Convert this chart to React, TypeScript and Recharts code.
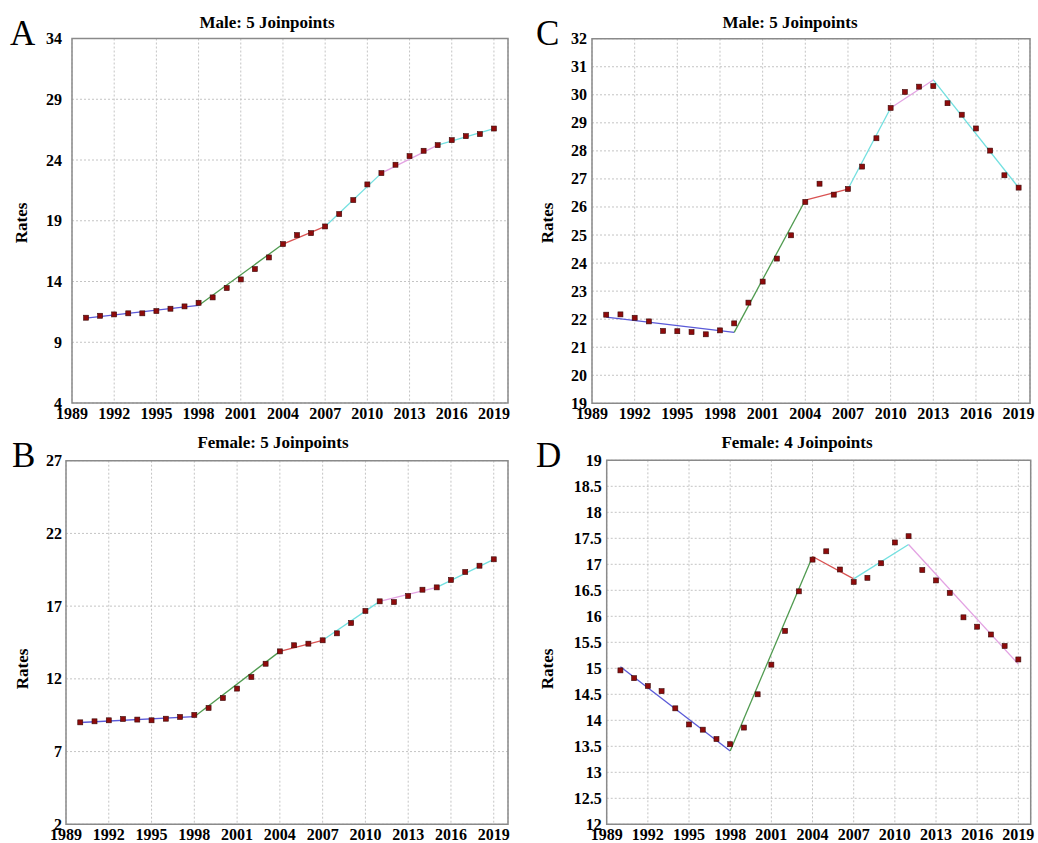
import React from 'react'
import { ComposedChart, Line, Scatter, XAxis, YAxis, CartesianGrid, ReferenceArea } from 'recharts'

// Années observées (1990-2019)
const years = [
    1990, 1991, 1992, 1993, 1994, 1995, 1996, 1997, 1998, 1999,
    2000, 2001, 2002, 2003, 2004, 2005, 2006, 2007, 2008, 2009,
    2010, 2011, 2012, 2013, 2014, 2015, 2016, 2017, 2018, 2019,
]

const xTicks = [1989, 1992, 1995, 1998, 2001, 2004, 2007, 2010, 2013, 2016, 2019]

// A - Male
const maleRatesA = [
    11.02, 11.18, 11.29, 11.38, 11.38, 11.57, 11.76, 11.95, 12.25, 12.69,
    13.46, 14.17, 15.02, 15.98, 17.08, 17.82, 17.98, 18.53, 19.55, 20.7,
    21.99, 22.92, 23.61, 24.32, 24.76, 25.22, 25.63, 25.96, 26.13, 26.59,
]
const maleJoinYearsA = [1990, 1998, 2004, 2007, 2011, 2015, 2019]
const maleFitA = [10.98, 12.03, 17.08, 18.53, 22.92, 25.22, 26.59]
const yTicksA = [4, 9, 14, 19, 24, 29, 34]

// B - Female
const femaleRatesB = [
    9.01, 9.08, 9.15, 9.24, 9.2, 9.15, 9.26, 9.38, 9.52, 10.0,
    10.68, 11.33, 12.13, 13.04, 13.89, 14.31, 14.42, 14.65, 15.13, 15.84,
    16.67, 17.33, 17.28, 17.7, 18.13, 18.29, 18.8, 19.35, 19.78, 20.22,
]
const femaleJoinYearsB = [1990, 1998, 2004, 2007, 2011, 2015, 2019]
const femaleFitB = [9.0, 9.4, 13.89, 14.65, 17.33, 18.29, 20.22]
const yTicksB = [2, 7, 12, 17, 22, 27]

// C - Male
const maleRatesC = [
    22.16, 22.17, 22.05, 21.92, 21.58, 21.57, 21.54, 21.46, 21.6, 21.85,
    22.59, 23.34, 24.16, 24.99, 26.18, 26.83, 26.44, 26.64, 27.44, 28.45,
    29.53, 30.1, 30.29, 30.31, 29.7, 29.29, 28.8, 28.01, 27.13, 26.69,
]
const maleJoinYearsC = [1990, 1999, 2004, 2007, 2010, 2013, 2019]
const maleFitC = [22.07, 21.53, 26.24, 26.64, 29.53, 30.53, 26.69]
const yTicksC = [19, 20, 21, 22, 23, 24, 25, 26, 27, 28, 29, 30, 31, 32]

// D - Female
const femaleRatesD = [
    14.96, 14.81, 14.66, 14.56, 14.23, 13.92, 13.82, 13.64, 13.54, 13.86,
    14.5, 15.07, 15.72, 16.48, 17.09, 17.25, 16.9, 16.66, 16.74, 17.02,
    17.42, 17.54, 16.89, 16.69, 16.45, 15.98, 15.8, 15.65, 15.43, 15.17,
]
const femaleJoinYearsD = [1990, 1998, 2004, 2007, 2011, 2019]
const femaleFitD = [15.03, 13.41, 17.15, 16.72, 17.38, 15.08]
const yTicksD = [12, 12.5, 13, 13.5, 14, 14.5, 15, 15.5, 16, 16.5, 17, 17.5, 18, 18.5, 19]

const segColors = ['#5a5ad8', '#4f9a4f', '#d95252', '#72e0e0', '#e3a3e3', '#72e0e0']

const FONT = "'Liberation Serif', 'Times New Roman', serif"

const buildRows = (rates: number[], joinYears: number[], fits: number[]) => {
    const rows: Record<string, number>[] = years.map((y, i) => ({ year: y, rate: rates[i] }))
    for (let k = 0; k < joinYears.length - 1; k++) {
        for (const j of [k, k + 1]) {
            const row = rows.find(r => r.year === joinYears[j])
            if (row) row[`seg${k}`] = fits[j]
        }
    }
    return rows
}

const Square = (props: any) => {
    const { cx, cy } = props
    if (cx == null || cy == null) return null
    return <rect x={cx - 2.5} y={cy - 2.5} width={5} height={5} fill="#8e0b0b" stroke="#3a0a0a" strokeWidth={0.6} />
}

const XTick = (props: any) => {
    const { x, y, payload } = props
    return (
        <text x={x} y={y + 14} textAnchor="middle" style={{ fontFamily: FONT, fontSize: 16, fontWeight: 700, fill: '#000' }}>
            {payload.value}
        </text>
    )
}

const YTick = (props: any) => {
    const { x, y, payload } = props
    return (
        <text x={x} y={y + 5.5} textAnchor="end" style={{ fontFamily: FONT, fontSize: 16, fontWeight: 700, fill: '#000' }}>
            {payload.value}
        </text>
    )
}

interface PanelProps {
    left: number
    top: number
    width: number
    height: number
    margin: { top: number; right: number; left: number; bottom: number }
    yWidth: number
    xHeight: number
    tickGap: number
    yDomain: [number, number]
    yTicks: number[]
    xMax: number
    rates: number[]
    joinYears: number[]
    fits: number[]
}

function Panel({ left, top, width, height, margin, yWidth, xHeight, tickGap, yDomain, yTicks, xMax, rates, joinYears, fits }: PanelProps) {
    const rows = buildRows(rates, joinYears, fits)
    return (
        <div style={{ position: 'absolute', left, top, width, height }}>
            <ComposedChart width={width} height={height} data={rows} margin={margin}>
                <CartesianGrid stroke="#c4c4c4" strokeDasharray="2 2" />
                <XAxis
                    dataKey="year"
                    type="number"
                    domain={[1989, xMax]}
                    ticks={xTicks}
                    height={xHeight}
                    axisLine={false}
                    tickLine={false}
                    tickSize={0}
                    tickMargin={2}
                    tick={<XTick />}
                    interval={0}
                />
                <YAxis
                    type="number"
                    domain={yDomain}
                    ticks={yTicks}
                    width={yWidth}
                    axisLine={false}
                    tickLine={false}
                    tickSize={0}
                    tickMargin={tickGap}
                    tick={<YTick />}
                    interval={0}
                />
                <ReferenceArea
                    x1={1989}
                    x2={xMax}
                    y1={yDomain[0]}
                    y2={yDomain[1]}
                    fill="none"
                    stroke="#8a8a8a"
                    strokeWidth={1.5}
                    ifOverflow="visible"
                />
                {joinYears.slice(0, -1).map((_, k) => (
                    <Line
                        key={k}
                        dataKey={`seg${k}`}
                        type="linear"
                        stroke={segColors[k]}
                        strokeWidth={1.3}
                        dot={false}
                        activeDot={false}
                        connectNulls
                        isAnimationActive={false}
                    />
                ))}
                <Scatter dataKey="rate" shape={Square} isAnimationActive={false} />
            </ComposedChart>
        </div>
    )
}

export default function App() {
    const txt = { fontFamily: FONT, fill: '#000' }
    return (
        <div style={{ position: 'absolute', left: 0, top: 0, width: 1038, height: 843, background: '#fff', fontFamily: FONT }}>
            <Panel
                left={0} top={0} width={520} height={430}
                margin={{ top: 38.5, right: 12, left: 0, bottom: 0 }}
                yWidth={72} xHeight={27} tickGap={10}
                yDomain={[4, 34]} yTicks={yTicksA} xMax={2020}
                rates={maleRatesA} joinYears={maleJoinYearsA} fits={maleFitA}
            />
            <Panel
                left={520} top={0} width={518} height={430}
                margin={{ top: 38.7, right: 8, left: 0, bottom: 0 }}
                yWidth={72} xHeight={26.7} tickGap={5}
                yDomain={[19, 32]} yTicks={yTicksC} xMax={2019.8}
                rates={maleRatesC} joinYears={maleJoinYearsC} fits={maleFitC}
            />
            <Panel
                left={0} top={420} width={520} height={423}
                margin={{ top: 40.7, right: 12, left: 0, bottom: 0 }}
                yWidth={66} xHeight={18.7} tickGap={4}
                yDomain={[2, 27]} yTicks={yTicksB} xMax={2020}
                rates={femaleRatesB} joinYears={femaleJoinYearsB} fits={femaleFitB}
            />
            <Panel
                left={520} top={420} width={518} height={423}
                margin={{ top: 40.3, right: 7.3, left: 0, bottom: 0 }}
                yWidth={86.7} xHeight={18.7} tickGap={5}
                yDomain={[12, 19]} yTicks={yTicksD} xMax={2019.9}
                rates={femaleRatesD} joinYears={femaleJoinYearsD} fits={femaleFitD}
            />
            <svg width={1038} height={843} style={{ position: 'absolute', left: 0, top: 0, pointerEvents: 'none' }}>
                <text x={10} y={45} fontSize={35} {...txt}>A</text>
                <text x={536} y={45} fontSize={35} {...txt}>C</text>
                <text x={12} y={467} fontSize={35} {...txt}>B</text>
                <text x={536} y={467} fontSize={35} {...txt}>D</text>

                <text x={267} y={28} fontSize={17} fontWeight={700} textAnchor="middle" {...txt}>Male: 5 Joinpoints</text>
                <text x={790} y={28} fontSize={17} fontWeight={700} textAnchor="middle" {...txt}>Male: 5 Joinpoints</text>
                <text x={273} y={447.5} fontSize={17} fontWeight={700} textAnchor="middle" {...txt}>Female: 5 Joinpoints</text>
                <text x={797} y={447.5} fontSize={17} fontWeight={700} textAnchor="middle" {...txt}>Female: 4 Joinpoints</text>

                {[
                    [21, 223],
                    [547.5, 223],
                    [22.5, 669],
                    [547.5, 669],
                ].map(([cx, cy], i) => (
                    <text
                        key={i}
                        x={cx}
                        y={cy}
                        fontSize={17}
                        fontWeight={700}
                        textAnchor="middle"
                        dominantBaseline="central"
                        transform={`rotate(-90, ${cx}, ${cy})`}
                        {...txt}
                    >
                        Rates
                    </text>
                ))}
            </svg>
        </div>
    )
}
